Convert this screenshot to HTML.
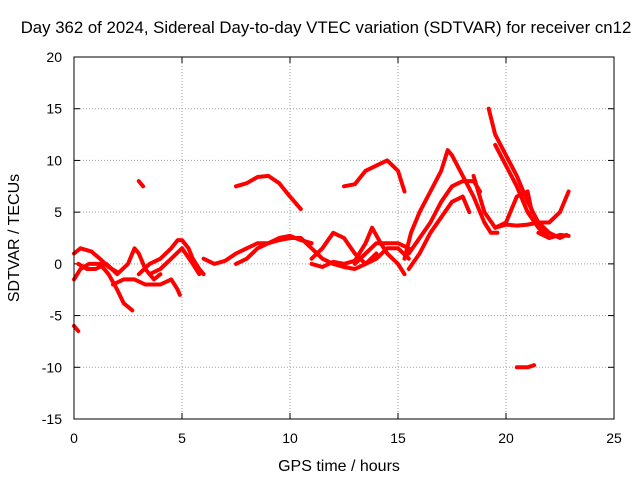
<!DOCTYPE html>
<html><head><meta charset="utf-8"><style>
body{margin:0;background:#fff}
svg{display:block;font-family:"Liberation Sans",sans-serif}
</style></head><body>
<svg id="chart" width="640" height="480">
<text x="326" y="33" font-size="16.8" text-anchor="middle">Day 362 of 2024, Sidereal Day-to-day VTEC variation (SDTVAR) for receiver cn12</text>
<text x="339" y="471" font-size="16" text-anchor="middle">GPS time / hours</text>
<text x="19" y="238" font-size="16" text-anchor="middle" transform="rotate(-90 19 238)">SDTVAR / TECUs</text>
<g id="grid"></g>
<g id="ticks"></g>
<g id="series"></g>
<rect x="74" y="57" width="540" height="362" fill="none" stroke="#000" stroke-width="1"/>
</svg>
<script>
const xTicks=[0,5,10,15,20,25];
const yTicks=[-15,-10,-5,0,5,10,15,20];
const t1=[[0,1],[0.3,1.5],[0.8,1.2],[1.2,0.5],[1.6,-0.3],[2,-0.8]];
const t2=[[0,-1.5],[0.3,-0.5],[0.7,0],[1.2,0],[1.6,-1],[2,-2.5],[2.3,-3.8],[2.7,-4.5]];
const t3=[[0.2,0],[0.6,-0.5],[1,-0.5],[1.5,0],[2,-1],[2.5,0],[2.8,1.5],[3,1],[3.3,-0.5],[3.7,-1.5],[4,-1]];
const t4=[[1.8,-2],[2.3,-1.5],[2.8,-1.5],[3.3,-2],[4,-2],[4.5,-1.5],[4.8,-2.5],[4.9,-3]];
const t5=[[3,-1],[3.5,0],[4,0.5],[4.5,1.5],[4.8,2.3],[5,2.3],[5.3,1.5],[5.5,0.5],[5.8,-0.5],[6,-1]];
const t6=[[3.5,-1],[4,-0.5],[4.5,0.5],[5,1.5],[5.5,0],[5.8,-1]];
const t7=[[0,-6],[0.2,-6.5]];
const t8=[[3,8],[3.2,7.5]];
const t9=[[6,0.5],[6.5,0],[7,0.3],[7.5,1],[8,1.5],[8.5,2],[9,2],[9.5,2.5],[10,2.7],[10.5,2.3],[11,2]];
const t10=[[7.5,0],[8,0.5],[8.5,1.5],[9,2],[9.5,2.3],[10,2.5],[10.5,2.5],[11,1.5],[11.5,0.5],[12,0],[12.5,-0.3],[13,-0.5],[13.5,0],[14,1]];
const t11=[[7.5,7.5],[8,7.8],[8.5,8.4],[9,8.5],[9.5,7.8],[10,6.5],[10.5,5.3]];
const t12=[[11,0.5],[11.5,1.5],[12,3],[12.5,2.5],[13,1],[13.5,0],[14,0.5],[14.5,1.5],[15,1.5],[15.5,0.5]];
const t13=[[11,0],[11.5,-0.3],[12,0.2],[12.5,0],[13,0.3],[13.5,2],[13.8,3.5],[14.2,2],[14.5,1],[15,0],[15.3,-1]];
const t14=[[12.5,7.5],[13,7.7],[13.5,9],[14,9.5],[14.5,10],[15,9],[15.3,7]];
const t15=[[13,0],[13.5,1],[14,2],[14.5,2],[15,2],[15.5,1.5]];
const t16=[[15.3,0.5],[15.6,3],[16,5],[16.5,7],[17,9],[17.3,11],[17.5,10.5],[18,8.5],[18.5,6.5],[19,4],[19.3,3],[19.6,3]];
const t17=[[15.5,1],[16,2.5],[16.5,4],[17,6],[17.5,7.5],[18,8],[18.5,8],[18.8,7]];
const t18=[[15.5,-0.5],[16,1],[16.5,3],[17,4.5],[17.5,6],[18,6.5],[18.3,5]];
const t19=[[18.5,8.5],[19,5],[19.5,3.5],[20,4],[20.5,6.5],[21,7],[21.2,5]];
const t20=[[19.2,15],[19.5,12.5],[20,10.5],[20.5,8.5],[21,6],[21.5,4],[22,3],[22.5,2.5],[22.8,2.8]];
const t21=[[19.5,11.5],[20,9.5],[20.5,7.5],[21,5],[21.5,3.5],[22,2.5]];
const t22=[[19.5,3.5],[20,3.8],[20.5,3.7],[21,3.8],[21.5,4],[22,4],[22.5,5],[22.9,7]];
const t23=[[20.5,-10],[21,-10],[21.3,-9.8]];
const t24=[[21.5,3],[22,2.5],[22.5,2.8],[22.9,2.7]];
const tracks=[t1,t2,t3,t4,t5,t6,t7,t8,t9,t10,t11,t12,t13,t14,t15,t16,t17,t18,t19,t20,t21,t22,t23,t24];
const NS="http://www.w3.org/2000/svg";
const X0=74,X1=614,Y0=419,Y1=57;
const xs=v=>X0+(v-0)/(25-0)*(X1-X0);
const ys=v=>Y0-(v+15)/(35)*(Y0-Y1);
function mk(tag,attrs,parent){const e=document.createElementNS(NS,tag);for(const k in attrs)e.setAttribute(k,attrs[k]);parent.appendChild(e);return e;}
const grid=document.getElementById('grid'),ticks=document.getElementById('ticks'),series=document.getElementById('series');
xTicks.forEach(v=>{
  const x=xs(v);
  if(v>0&&v<25){const g=mk('line',{x1:x,x2:x,y1:Y1,y2:Y0,stroke:'#a0a0a0','stroke-dasharray':'1,2'},grid);
  
  }
  mk('line',{x1:x,x2:x,y1:Y0,y2:Y0-6,stroke:'#000'},ticks);
  mk('line',{x1:x,x2:x,y1:Y1,y2:Y1+6,stroke:'#000'},ticks);
  const t=mk('text',{x:x,y:443,'font-size':14,'text-anchor':'middle'},ticks);t.textContent=v;
  
  
});
yTicks.forEach(v=>{
  const y=ys(v);
  if(v>-15&&v<20){const g=mk('line',{x1:X0,x2:X1,y1:y,y2:y,stroke:'#a0a0a0','stroke-dasharray':'1,2'},grid);
  
  }
  mk('line',{x1:X0,x2:X0+6,y1:y,y2:y,stroke:'#000'},ticks);
  mk('line',{x1:X1,x2:X1-6,y1:y,y2:y,stroke:'#000'},ticks);
  const t=mk('text',{x:62,y:y+5,'font-size':14,'text-anchor':'end'},ticks);t.textContent=v;
  
  
});
tracks.forEach(tr=>{
  const pts=tr.map(p=>xs(p[0]).toFixed(1)+','+ys(p[1]).toFixed(1)).join(' ');
  const pl=mk('polyline',{points:pts,fill:'none',stroke:'#ff0000','stroke-width':4,'stroke-linejoin':'round','stroke-linecap':'round'},series);
  
  
});
</script>
</body></html>
